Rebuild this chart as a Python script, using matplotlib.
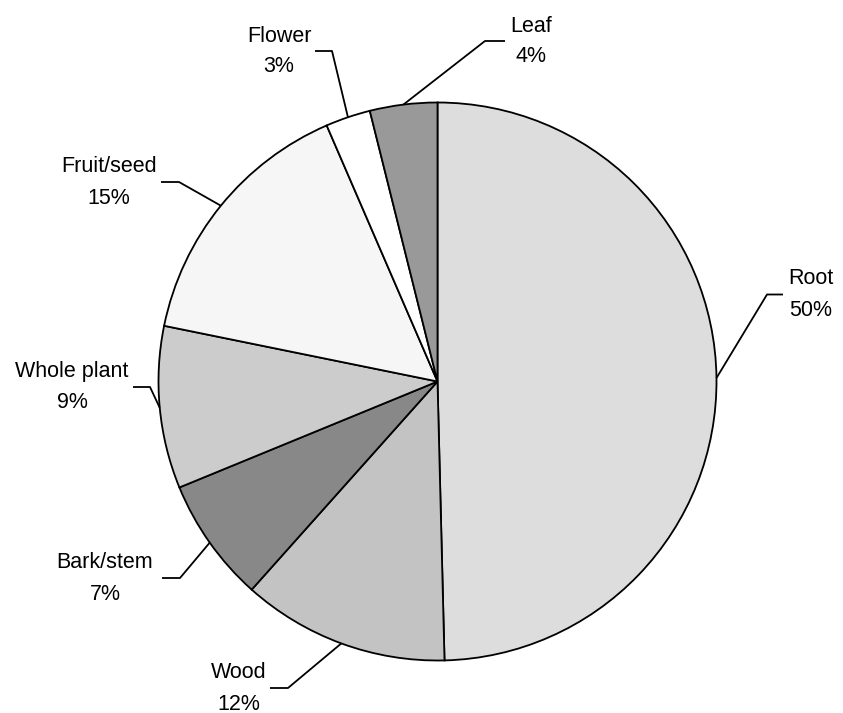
"""
Pie chart of plant parts used, with elbow leader lines to each label.
"""

import numpy as np
import matplotlib.pyplot as plt
from matplotlib.transforms import Bbox, TransformedBbox

OUTPUT_PATH = "out.png"

parts = ["Root", "Wood", "Bark/stem", "Whole plant", "Fruit/seed", "Flower", "Leaf"]
shares = [49.6, 12.0, 7.2, 9.4, 15.3, 2.6, 3.9]
colors = ["#dddddd", "#c3c3c3", "#888888", "#cccccc", "#f6f6f6", "#ffffff", "#999999"]

# label layout in pixels: name centre (x, y), elbow (x, y), end of horizontal stub x
label_layout = {
    "Root":        (811, 279, 767, 294.5, 783),
    "Wood":        (239, 673, 288, 688, 270),
    "Bark/stem":   (105, 563, 180, 578, 162),
    "Whole plant": (72, 371, 150, 387, 133),
    "Fruit/seed":  (109, 167, 179, 182, 161),
    "Flower":      (279, 36, 332, 51, 315),
    "Leaf":        (531, 26, 485, 41, 505),
}

W, H = 843, 713
CX, CY, R = 437.5, 381.5, 279.0
LINE_GAP = 31


def px(x, y):
    """Pixel position (from top-left) to data coordinates of the pie axes."""
    return (x - CX) / R, (CY - y) / R


def plot_pie(save_path=None):
    plt.rcParams["font.family"] = ["Liberation Sans", "DejaVu Sans"]
    fig = plt.figure(figsize=(W / 100, H / 100), dpi=100)
    ax = fig.add_axes([0, 0, 1, 1])

    wedges, _ = ax.pie(
        shares, colors=colors, startangle=90, counterclock=False, radius=1.0,
        wedgeprops=dict(edgecolor="black", linewidth=1.3),
    )
    ax.set_xlim(-CX / R, (W - CX) / R)
    ax.set_ylim(-(H - CY) / R, CY / R)
    ax.set_aspect("auto")
    ax.axis("off")

    clip = TransformedBbox(Bbox([[13 / W, 0], [1, 1]]), fig.transFigure)

    for wedge, name, share in zip(wedges, parts, shares):
        tx, ty, ex, ey, hx = label_layout[name]
        mid = np.deg2rad((wedge.theta1 + wedge.theta2) / 2)
        x0, y0 = np.cos(mid), np.sin(mid)
        x1, y1 = px(ex, ey)
        x2, _ = px(hx, ey)
        ax.plot([x0, x1, x2], [y0, y1, y1], color="black", lw=1.3, solid_capstyle="butt")

        for text, yy in ((name, ty), (f"{round(share):d}%", ty + LINE_GAP)):
            lx, ly = px(tx, yy)
            t = ax.text(lx, ly, text, ha="center", va="center", fontsize=15.5, color="black")
            t.set_clip_box(clip)
            t.set_clip_on(True)

    if save_path:
        fig.savefig(save_path, dpi=100)


if __name__ == "__main__":
    plot_pie(OUTPUT_PATH)
